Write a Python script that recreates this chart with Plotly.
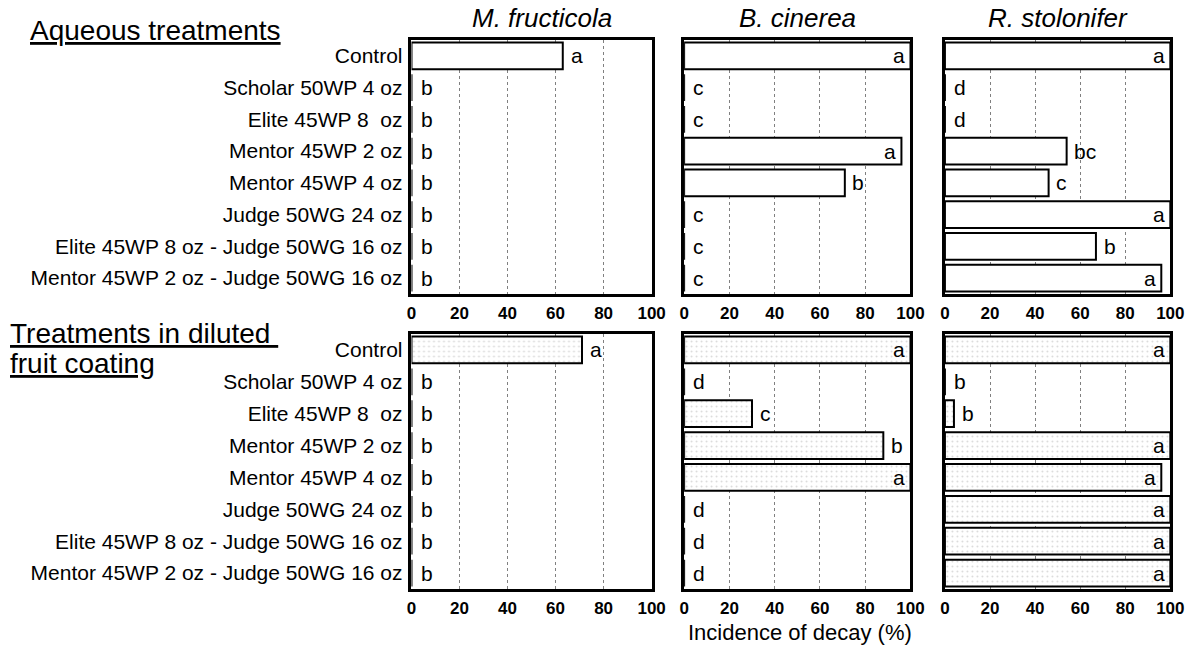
import plotly.graph_objects as go

# ---------------- data ----------------
treatments = [
    "Control",
    "Scholar 50WP 4 oz",
    "Elite 45WP 8\u00a0 oz",
    "Mentor 45WP 2 oz",
    "Mentor 45WP 4 oz",
    "Judge 50WG 24 oz",
    "Elite 45WP 8 oz - Judge 50WG 16 oz",
    "Mentor 45WP 2 oz - Judge 50WG 16 oz",
]
pathogens = ["M. fructicola", "B. cinerea", "R. stolonifer"]
row_titles = ["Aqueous treatments", "Treatments in diluted", "fruit coating"]
x_title = "Incidence of decay (%)"
x_ticks = [0, 20, 40, 60, 80, 100]

# Aqueous treatments
aq_mfru = [63, 0, 0, 0, 0, 0, 0, 0]
aq_mfru_let = ["a", "b", "b", "b", "b", "b", "b", "b"]
aq_bcin = [100, 0, 0, 96, 71, 0, 0, 0]
aq_bcin_let = ["a", "c", "c", "a", "b", "c", "c", "c"]
aq_rsto = [100, 0, 0, 54, 46, 100, 67, 96]
aq_rsto_let = ["a", "d", "d", "bc", "c", "a", "b", "a"]

# Treatments in diluted fruit coating
co_mfru = [71, 0, 0, 0, 0, 0, 0, 0]
co_mfru_let = ["a", "b", "b", "b", "b", "b", "b", "b"]
co_bcin = [100, 0, 30, 88, 100, 0, 0, 0]
co_bcin_let = ["a", "d", "c", "b", "a", "d", "d", "d"]
co_rsto = [100, 0, 4, 100, 96, 100, 100, 100]
co_rsto_let = ["a", "b", "b", "a", "a", "a", "a", "a"]

panels = [
    (aq_mfru, aq_mfru_let), (aq_bcin, aq_bcin_let), (aq_rsto, aq_rsto_let),
    (co_mfru, co_mfru_let), (co_bcin, co_bcin_let), (co_rsto, co_rsto_let),
]

# ---------------- layout helpers ----------------
W, H = 1204, 647
FONT = "Liberation Sans, Arial, sans-serif"


def fx(px):
    return px / W


def fy(py):
    return 1 - py / H


col_px = [(413, 657), (690, 920), (955, 1184)]
row_px = [(40, 294), (334, 589)]
stipple_rows = [False, True]

fig = go.Figure()
annotations = []
layout_axes = {}

for i, (vals, lets) in enumerate(panels):
    r, c = divmod(i, 3)
    n = i + 1
    xa = "x" if n == 1 else f"x{n}"
    ya = "y" if n == 1 else f"y{n}"
    pattern = dict(shape=".", fgcolor="#b5b5b5", bgcolor="white", size=5,
                   solidity=0.12, fillmode="overlay") if stipple_rows[r] else dict(shape="")
    fig.add_trace(go.Bar(
        x=vals, y=treatments, orientation="h", xaxis=xa, yaxis=ya,
        width=0.84,
        marker=dict(color="white", line=dict(color="black", width=2), pattern=pattern),
        showlegend=False, hoverinfo="x+y",
    ))
    for t, v, l in zip(treatments, vals, lets):
        if v >= 90:
            ax, anchor = v - 1.5, "right"
        elif v == 0:
            ax, anchor = 3, "left"
        else:
            ax, anchor = v + 2.5, "left"
        annotations.append(dict(
            x=ax, y=t, xref=xa, yref=ya, text=l, showarrow=False,
            xanchor=anchor, yanchor="middle",
            font=dict(family=FONT, size=21, color="black"),
        ))
    key = "" if n == 1 else str(n)
    layout_axes[f"xaxis{key}"] = dict(
        domain=[fx(col_px[c][0]), fx(col_px[c][1])], anchor=ya,
        range=[0, 100], tickvals=x_ticks, ticktext=[str(t) for t in x_ticks],
        showgrid=True, gridcolor="#808080", griddash="dot", gridwidth=1,
        zeroline=False, showline=True, linecolor="black", linewidth=2.5, mirror=True,
        ticks="", ticklabelstandoff=2,
        tickfont=dict(family=FONT, size=17, color="black", weight="bold"),
        fixedrange=True,
    )
    layout_axes[f"yaxis{key}"] = dict(
        domain=[fy(row_px[r][1]), fy(row_px[r][0])], anchor=xa,
        type="category", categoryorder="array", categoryarray=treatments,
        autorange="reversed",
        showgrid=False, zeroline=False, showline=True, linecolor="black",
        linewidth=2.5, mirror=True, ticks="",
        showticklabels=(c == 0), ticklabelstandoff=2,
        tickfont=dict(family=FONT, size=21, color="black"),
        fixedrange=True,
    )

# column titles
title_x = [546, 805, 1070]
for name, px in zip(pathogens, title_x):
    annotations.append(dict(
        x=fx(px), y=fy(18), xref="paper", yref="paper", text=f"<i>{name}</i>",
        showarrow=False, xanchor="center", yanchor="middle",
        font=dict(family=FONT, size=26, color="black"),
    ))

# row titles
annotations.append(dict(
    x=fx(23), y=fy(30), xref="paper", yref="paper", text=f"<u>{row_titles[0]}</u>",
    showarrow=False, xanchor="left", yanchor="middle",
    font=dict(family=FONT, size=28, color="black"),
))
annotations.append(dict(
    x=fx(3), y=fy(333), xref="paper", yref="paper", text=f"<u>{row_titles[1]}\u00a0</u>",
    showarrow=False, xanchor="left", yanchor="middle",
    font=dict(family=FONT, size=28, color="black"),
))
annotations.append(dict(
    x=fx(3), y=fy(363), xref="paper", yref="paper", text=f"<u>{row_titles[2]}</u>",
    showarrow=False, xanchor="left", yanchor="middle",
    font=dict(family=FONT, size=28, color="black"),
))

# x-axis title
annotations.append(dict(
    x=fx(808), y=fy(632), xref="paper", yref="paper", text=x_title,
    showarrow=False, xanchor="center", yanchor="middle",
    font=dict(family=FONT, size=22, color="black"),
))

fig.update_layout(
    width=W, height=H, margin=dict(l=0, r=0, t=0, b=0),
    paper_bgcolor="white", plot_bgcolor="white",
    barmode="overlay", annotations=annotations,
    **layout_axes,
)

fig.write_html("out.html")
